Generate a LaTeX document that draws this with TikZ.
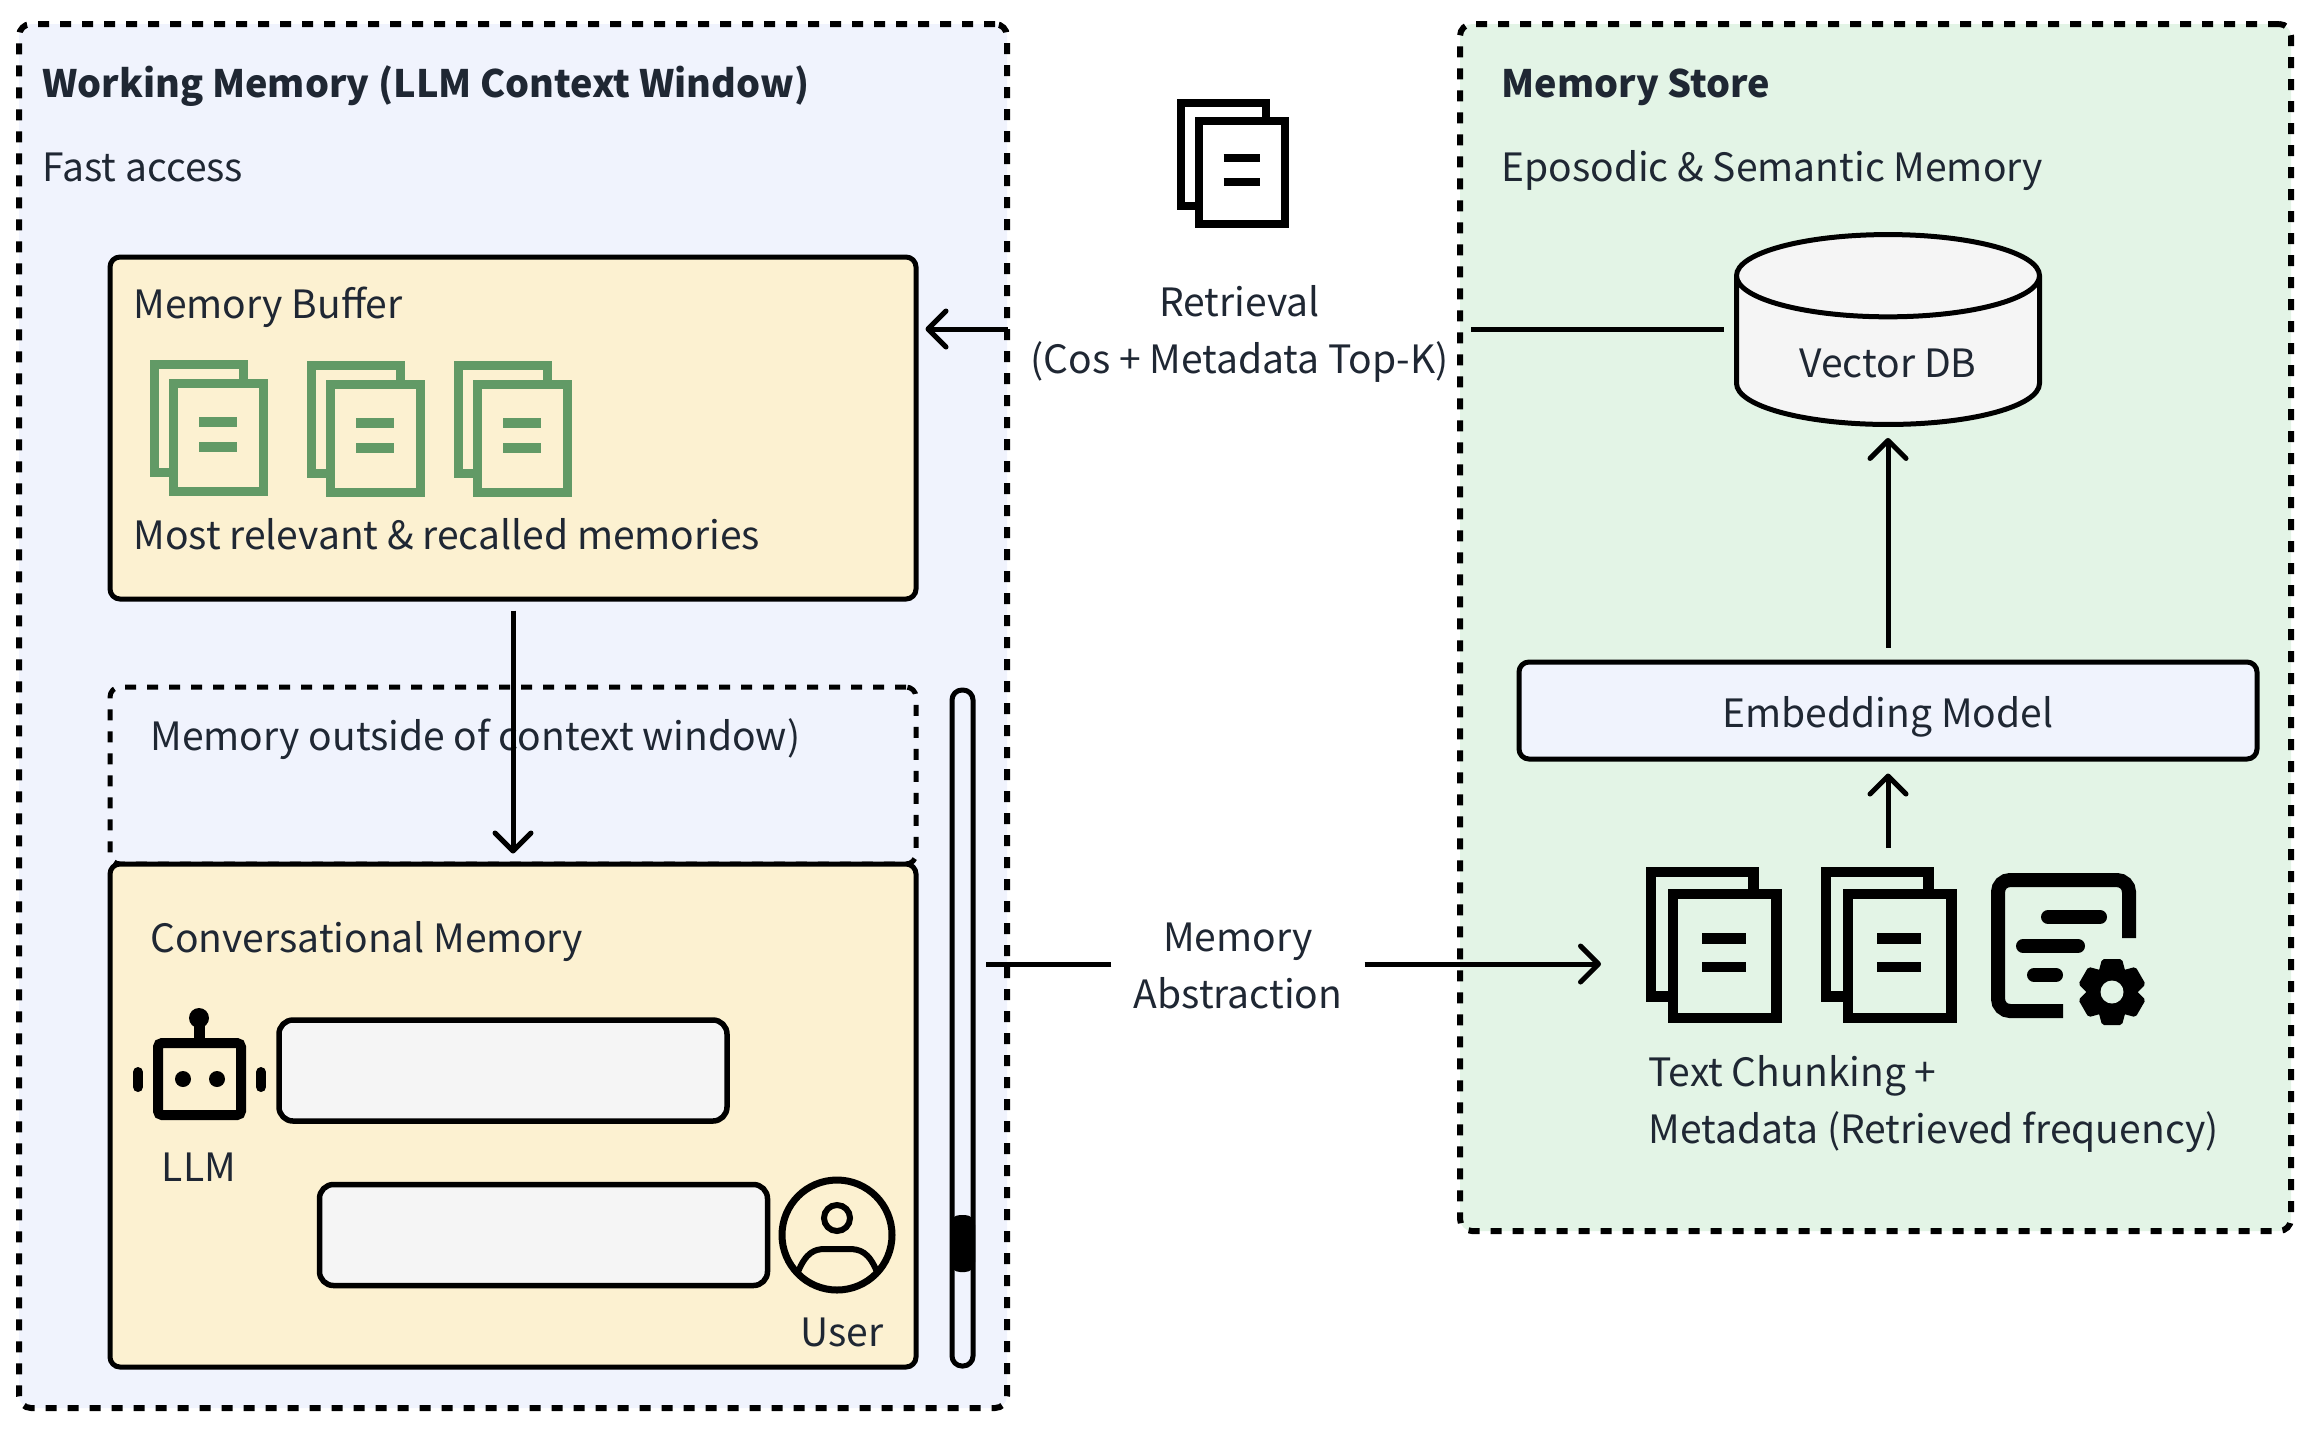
\documentclass[tikz,border=0pt]{standalone}
\usepackage{fontspec}
\setmainfont{Noto Sans CJK SC}
\usetikzlibrary{arrows.meta,shapes.geometric}
\definecolor{bluepanel}{HTML}{F0F3FD}
\definecolor{greenpanel}{HTML}{E3F4E6}
\definecolor{yellowbox}{HTML}{FCF1D1}
\definecolor{greybox}{HTML}{F5F5F5}
\definecolor{docgreen}{HTML}{629A66}
\definecolor{ink}{HTML}{1F2733}
\tikzset{
panel/.style={rectangle,draw=black,line width=3pt,dash pattern=on 5.5pt off 5.5pt,rounded corners=6pt},
box/.style={rectangle,draw=black,line width=2.5pt,rounded corners=5pt,fill=yellowbox},
bubble/.style={box,line width=2.75pt,rounded corners=7pt,fill=greybox,minimum width=224pt,minimum height=50.5pt},
label/.style={text=ink,inner sep=0pt,text height=16pt,text depth=3pt,font=\fontsize{19.5}{28.5}\selectfont},
lefttext/.style={label,anchor=west,align=left},
midtext/.style={label,align=center,inner xsep=11pt,inner ysep=2pt},
titletext/.style={lefttext,font=\fontsize{18.9}{28.5}\bfseries},
arrowline/.style={line width=2.5pt,-{Straight Barb[length=9pt,width=18pt,line width=2.5pt,round]}},
plainline/.style={line width=2.5pt}
}
% x y scale style
\newcommand{\docicon}[4]{
\begin{scope}[shift={(#1,#2)},scale=#3,#4]
\draw[miter limit=10] (23.5,112.5) -- (4.5,112.5) -- (4.5,4.5) -- (93.5,4.5) -- (93.5,23.5);
\draw (23.5,23.5) rectangle (113.5,131.5);
\draw (49,62) -- (87,62);
\draw (49,87) -- (87,87);
\end{scope}
}
\begin{document}
\begin{tikzpicture}[x=0.5pt,y=-0.5pt]
\useasboundingbox (0,0) rectangle (2312,1432);

% panels
\node[panel,fill=bluepanel,minimum width=494pt,minimum height=692pt] (working) at (513,716) {};
\node[panel,fill=greenpanel,minimum width=415.5pt,minimum height=603.5pt] (store) at (1875.5,627.5) {};

\node[titletext] (workingtitle) at (42,84) {Working Memory (LLM Context Window)};
\node[lefttext] (fastaccess) at (42,168) {Fast access};
\node[titletext] (storetitle) at (1501,84) {Memory Store};
\node[lefttext] (storesub) at (1501,168) {Eposodic \& Semantic Memory};

% left side
\node[box,minimum width=403pt,minimum height=171pt] (membuffer) at (513,428) {};
\node[lefttext] (buffertitle) at (133,305) {Memory Buffer};
\node[lefttext] (buffertext) at (133,536) {Most relevant \& recalled memories};
\docicon{150}{360}{1}{draw=docgreen,line width=4.75pt}
\docicon{307}{361}{1}{draw=docgreen,line width=4.75pt}
\docicon{454}{361}{1}{draw=docgreen,line width=4.75pt}

\node[panel,rounded corners=5pt,line width=2.5pt,minimum width=403pt,minimum height=88.5pt] (outside) at (513,775.5) {};
\node[lefttext] (outsidetext) at (150,737) {Memory outside of context window)};
\node[box,minimum width=403pt,minimum height=251.5pt] (conv) at (513,1115.5) {};
\node[lefttext] (convtitle) at (150,939) {Conversational Memory};
\node[bubble] (llmbubble) at (503,1070.5) {};
\node[bubble] (userbubble) at (543.5,1235) {};
\node[label] (llmlabel) at (199,1168) {LLM};
\node[label] (userlabel) at (842,1333) {User};

% robot
\draw[line width=5pt,rounded corners=2pt] (158,1043) rectangle (241,1115);
\draw[line width=5.5pt] (199,1038) -- (199,1022);
\fill (199,1018) circle [radius=10];
\draw[line width=5pt,line cap=round] (138,1072) -- (138,1087);
\draw[line width=5pt,line cap=round] (261,1072) -- (261,1087);
\fill (183,1079) circle [radius=8];
\fill (217,1079) circle [radius=8];

% user
\draw[line width=3.5pt] (837,1235) circle [radius=55];
\draw[line width=3pt] (837,1218) circle [radius=13];
\draw[line width=3pt] (798,1272) .. controls (806,1252) and (815,1249) .. (825,1249) -- (849,1249) .. controls (860,1249) and (869,1252) .. (877,1272);

% scroll bar
\node[rectangle,draw=black,line width=2.5pt,fill=bluepanel,rounded corners=5pt,minimum width=10.5pt,minimum height=338pt,inner sep=0pt] (scrollbar) at (962.5,1028) {};
\node[rectangle,fill=black,rounded corners=5pt,minimum width=12.5pt,minimum height=28.5pt,inner sep=0pt] (thumb) at (962.5,1243.5) {};

% right side
\node[cylinder,anchor=shape center,shape border rotate=90,shape aspect=0.465,draw=black,line width=2.5pt,fill=greybox,cylinder uses custom fill,cylinder body fill=greybox,cylinder end fill=greybox,minimum width=151.5pt,minimum height=93pt,inner sep=0pt,label,text height=29pt] (vectordb) at (1888,329.5) {Vector DB};
\node[box,fill=bluepanel,minimum width=369pt,minimum height=48.5pt,label,text height=19.5pt] (embedding) at (1888,710.5) {Embedding Model};
\docicon{1646}{867}{1.15}{line width=5.25pt}
\docicon{1821}{867}{1.15}{line width=5.25pt}
\coordinate (chunks) at (1601,964);
\coordinate (chunkstop) at (1888,848);

% doc with gear
\draw[line width=7pt,rounded corners=6pt] (2129,938) -- (2129,880) -- (1998,880) -- (1998,1011) -- (2063,1011);
\foreach \lx/\ly/\lw in {2048/917/2100,2023/946/2078,2034/975/2056}
\draw[line width=7pt,line cap=round] (\lx,\ly) -- (\lw,\ly);
\fill (2112,992) circle [radius=24];
\foreach \a in {90,150,210,270,330,30}
\fill[shift={(2112,992)},rotate=\a,rounded corners=1pt] (18,-14) -- (33,-10) -- (33,10) -- (18,14) -- cycle;
\fill[greenpanel] (2112,992) circle [radius=11.5];

\node[lefttext] (chunktext) at (1648,1130) {Text Chunking +\\Metadata (Retrieved frequency)};

% middle
\docicon{1177}{99}{0.95}{line width=4pt}
\node[midtext] (retrieval) at (1239.5,360) {Retrieval\\(Cos + Metadata Top-K)};
\node[midtext] (abstraction) at (1238,995) {Memory\\Abstraction};

\draw[arrowline,shorten >=3.5pt] (retrieval.west |- 0,329) -- (membuffer.east |- 0,329);
\draw[plainline,shorten <=5pt] (vectordb.west |- 0,329) -- (retrieval.east |- 0,329);
\draw[arrowline,shorten <=4.5pt,shorten >=4pt] (membuffer.south) -- (conv.north);
\draw[arrowline,shorten <=6pt,shorten >=5.5pt] (embedding.north) -- (vectordb.south);
\draw[arrowline,shorten >=6pt] (chunkstop) -- (embedding.south);
\draw[plainline,shorten >=5pt] (abstraction.west |- 0,964) -- (scrollbar.east |- 0,964);
\draw[arrowline] (abstraction.east |- 0,964) -- (chunks);

\end{tikzpicture}
\end{document}
